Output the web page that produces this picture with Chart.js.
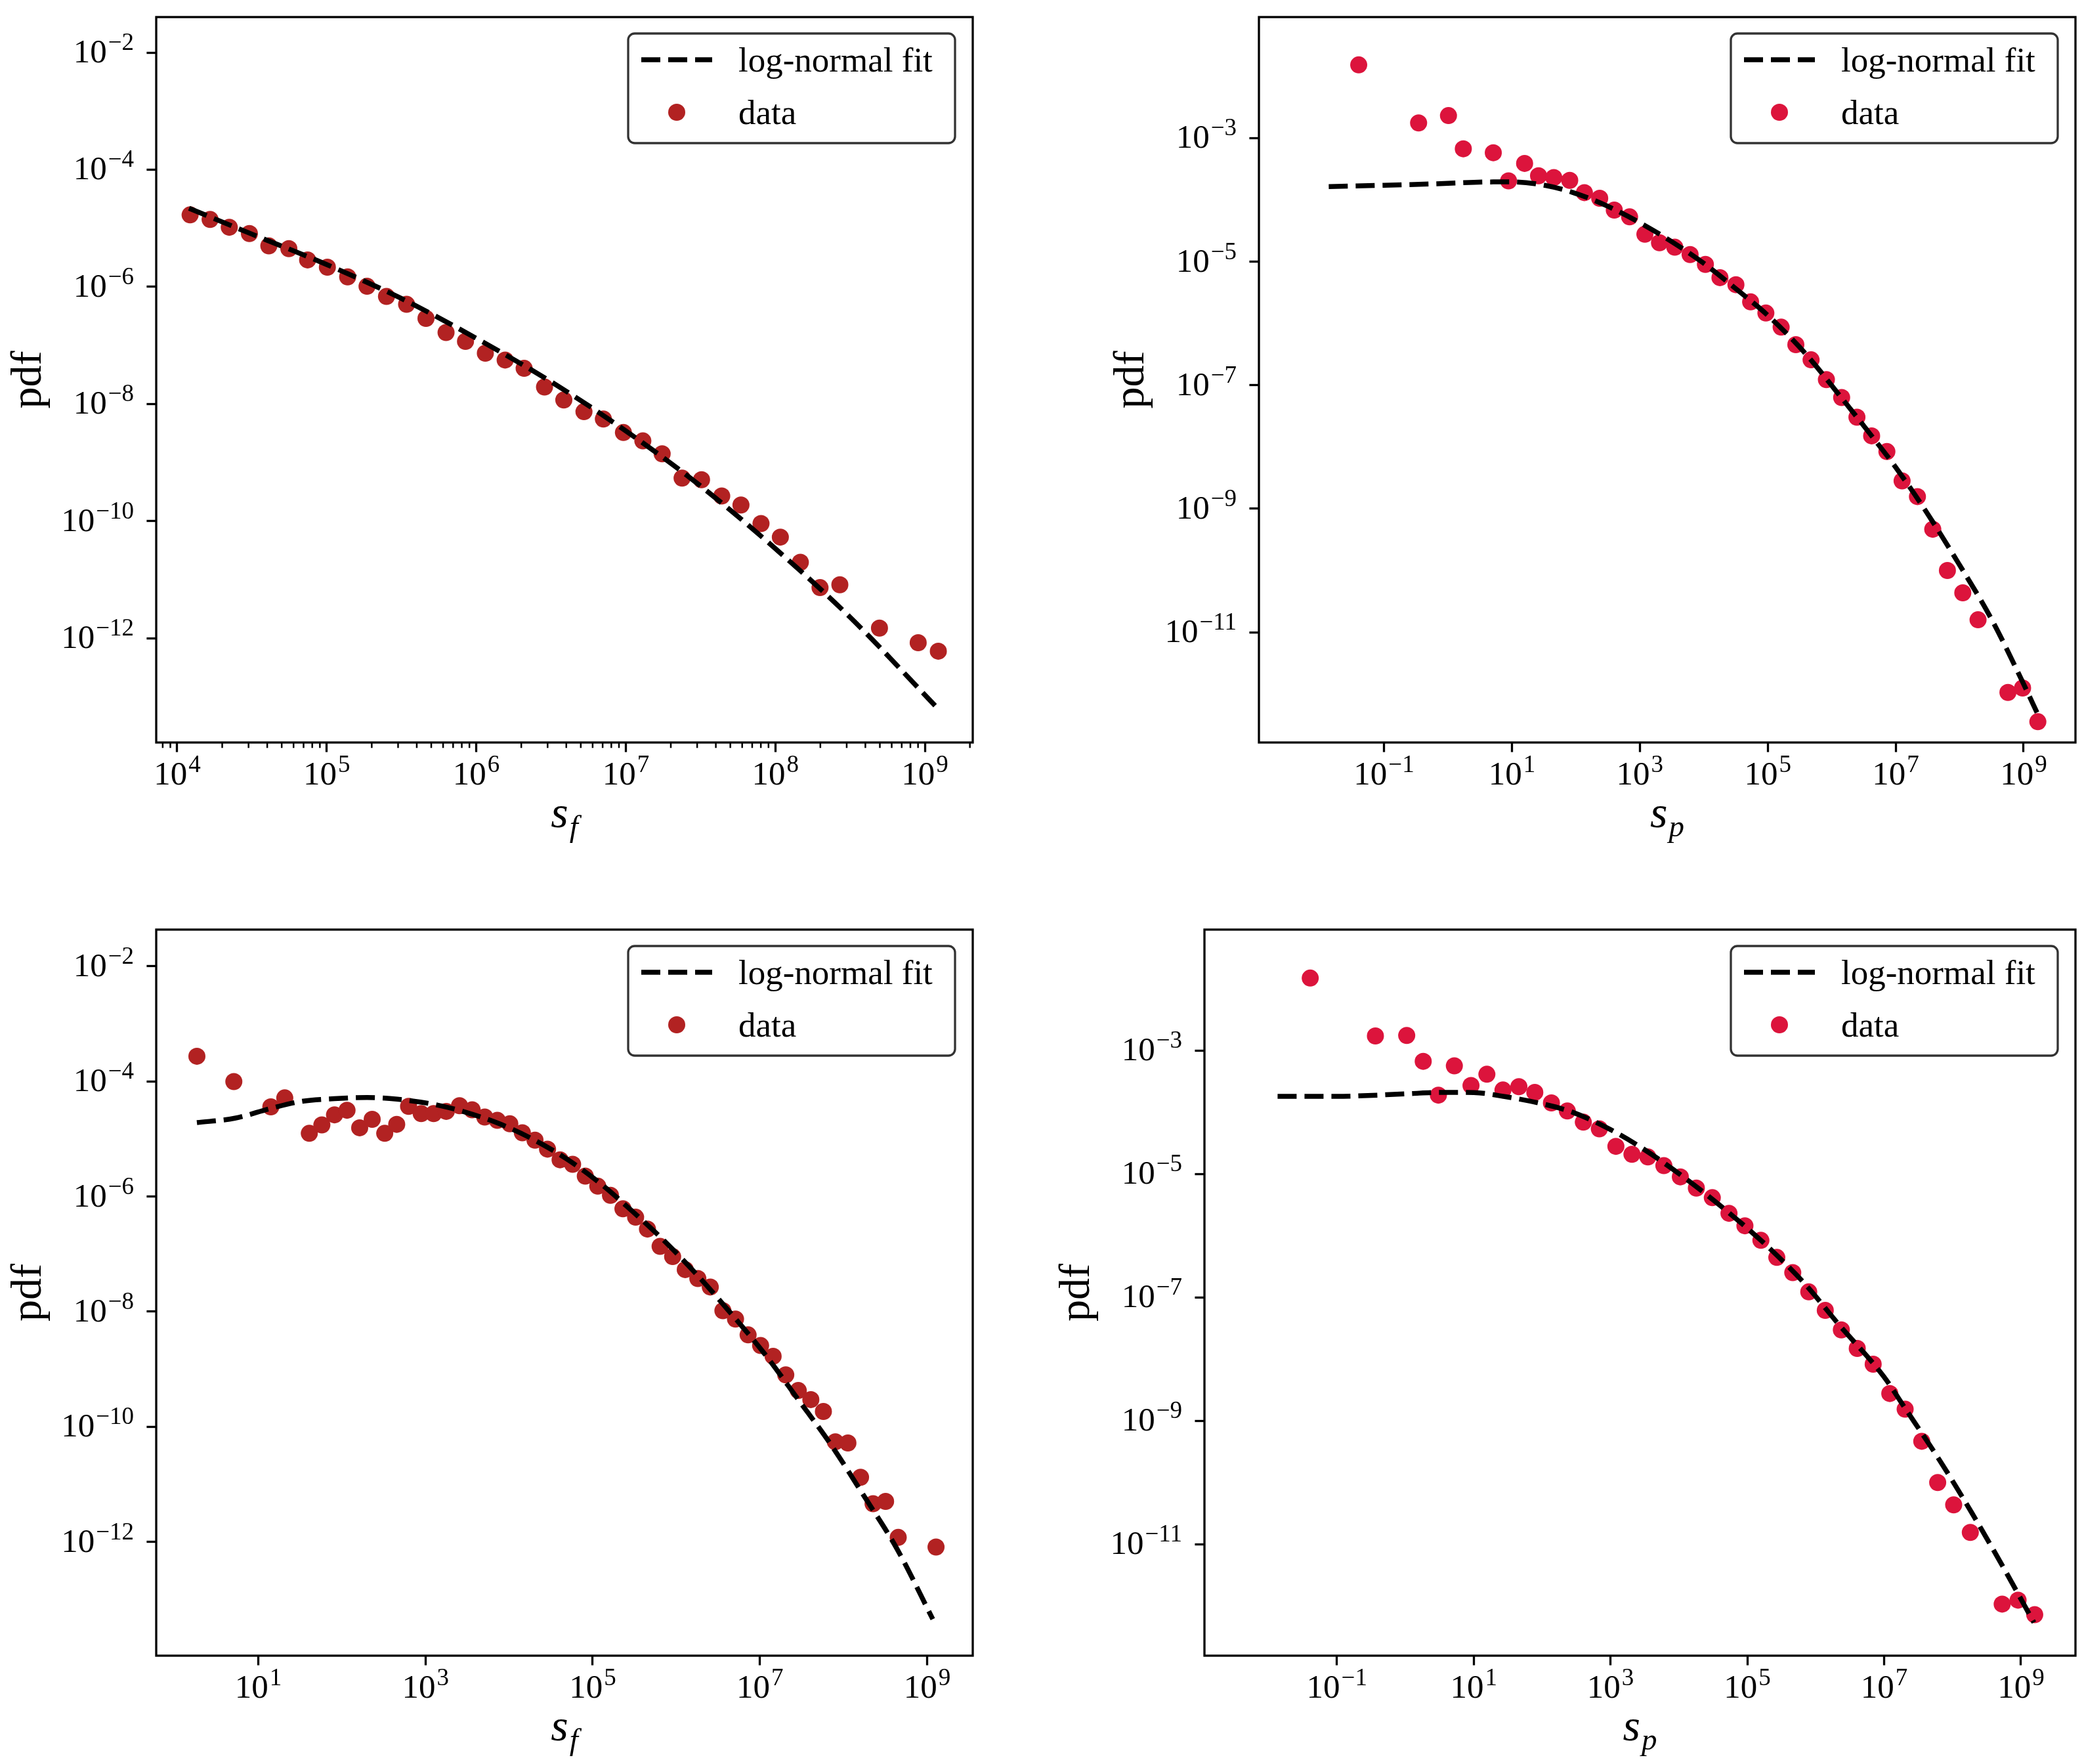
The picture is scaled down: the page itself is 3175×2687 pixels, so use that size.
<!DOCTYPE html>
<html><head><meta charset="utf-8">
<script src="https://cdn.jsdelivr.net/npm/chart.js@4.4.1/dist/chart.umd.min.js"></script>
<style>
html,body{margin:0;padding:0;background:#fff;}
#wrap{position:relative;width:3175px;height:2687px;background:#fff;overflow:hidden;}
canvas{position:absolute;}
</style></head><body>
<div id="wrap">
<canvas id="cTL"></canvas><canvas id="cTR"></canvas><canvas id="cBL"></canvas><canvas id="cBR"></canvas>
</div>
<script>
// ---------- data: top-left (s_f) ----------
const tlDataX = [1.22e4,1.66e4,2.23e4,3.04e4,4.10e4,5.58e4,7.45e4,1.01e5,1.38e5,1.86e5,2.51e5,3.42e5,4.61e5,6.28e5,8.47e5,1.15e6,1.56e6,2.09e6,2.86e6,3.85e6,5.25e6,7.08e6,9.64e6,1.30e7,1.75e7,2.38e7,3.21e7,4.38e7,5.89e7,8.02e7,1.08e8,1.47e8,1.99e8,2.70e8,4.97e8,9.02e8,1.23e9];
const tlDataY = [1.69e-5,1.41e-5,1.04e-5,8.13e-6,5.00e-6,4.48e-6,2.88e-6,2.16e-6,1.48e-6,1.02e-6,6.84e-7,5.02e-7,2.89e-7,1.66e-7,1.17e-7,7.35e-8,5.62e-8,4.05e-8,1.95e-8,1.17e-8,7.38e-9,5.53e-9,3.25e-9,2.34e-9,1.41e-9,5.43e-10,5.08e-10,2.68e-10,1.88e-10,9.08e-11,5.33e-11,1.98e-11,7.31e-12,8.17e-12,1.49e-12,8.38e-13,6.01e-13];
const tlFitX = [1.20e4,3.16e4,1.0e5,3.16e5,1.0e6,3.16e6,1.0e7,3.16e7,1.0e8,3.16e8,1.17e9];
const tlFitY = [2.19e-5,7.94e-6,2.40e-6,6.31e-7,1.32e-7,2.40e-8,3.47e-9,3.98e-10,3.39e-11,2.29e-12,7.08e-14];
const tlXTicks = [1e4,1e5,1e6,1e7,1e8,1e9];
const tlXExps = ['4','5','6','7','8','9'];
const tlYTicks = [1e-2,1e-4,1e-6,1e-8,1e-10,1e-12];
const tlYExps = ['−2','−4','−6','−8','−10','−12'];

// ---------- data: top-right (s_p) ----------
const trDataX = [4.03e-2,3.48e-1,1.02,1.74,5.12,8.87,15.8,26.1,45.2,80.2,136,236,399,692,1.20e3,2.03e3,3.52e3,6.11e3,1.06e4,1.79e4,3.18e4,5.40e4,9.35e4,1.62e5,2.75e5,4.76e5,8.26e5,1.43e6,2.48e6,4.21e6,7.29e6,1.26e7,2.19e7,3.80e7,6.44e7,1.12e8,1.94e8,5.69e8,9.64e8,1.67e9];
const trDataY = [1.53e-2,1.76e-3,2.31e-3,6.71e-4,5.79e-4,2.03e-4,3.89e-4,2.45e-4,2.30e-4,2.07e-4,1.31e-4,1.06e-4,6.82e-5,5.30e-5,2.77e-5,2.02e-5,1.71e-5,1.30e-5,9.00e-6,5.50e-6,4.23e-6,2.23e-6,1.47e-6,8.69e-7,4.53e-7,2.57e-7,1.23e-7,6.31e-8,3.03e-8,1.51e-8,8.41e-9,2.82e-9,1.57e-9,4.65e-10,1.00e-10,4.35e-11,1.59e-11,1.06e-12,1.25e-12,3.56e-13];
const trFitX = [1.37e-2,0.1,0.759,5.13,10,34.7,89.1,295,1e3,3.31e3,1.07e4,3.55e4,1e5,3.89e5,1.29e6,4.27e6,1e7,2.88e7,9.55e7,3.16e8,1e9,1.62e9];
const trFitY = [1.64e-4,1.72e-4,1.83e-4,1.95e-4,1.95e-4,1.70e-4,1.32e-4,8.13e-5,4.27e-5,2.04e-5,8.91e-6,3.31e-6,1.35e-6,3.24e-7,7.08e-8,1.48e-8,4.68e-9,9.55e-10,1.32e-10,1.62e-11,1.45e-12,5.01e-13];
const trXTicks = [1e-1,1e1,1e3,1e5,1e7,1e9];
const trXExps = ['−1','1','3','5','7','9'];
const trYTicks = [1e-3,1e-5,1e-7,1e-9,1e-11];
const trYExps = ['−3','−5','−7','−9','−11'];

// ---------- data: bottom-left (s_f) ----------
const blDataX = [1.84,5.09,14.1,20.7,40.7,57.5,81.5,115,163,230,325,452,627,887,1.25e3,1.77e3,2.55e3,3.61e3,5.11e3,7.23e3,1.02e4,1.44e4,2.04e4,2.88e4,4.07e4,5.75e4,8.15e4,1.15e5,1.63e5,2.30e5,3.26e5,4.52e5,6.40e5,9.04e5,1.28e6,1.81e6,2.55e6,3.61e6,5.11e6,7.23e6,1.02e7,1.44e7,2.04e7,2.88e7,4.07e7,5.75e7,8.00e7,1.13e8,1.60e8,2.26e8,3.19e8,4.52e8,1.28e9];
const blDataY = [2.73e-4,9.91e-5,3.60e-5,5.16e-5,1.25e-5,1.75e-5,2.62e-5,3.15e-5,1.56e-5,2.19e-5,1.25e-5,1.79e-5,3.68e-5,2.75e-5,2.75e-5,3.01e-5,3.77e-5,3.21e-5,2.40e-5,2.10e-5,1.83e-5,1.28e-5,9.53e-6,6.65e-6,4.34e-6,3.62e-6,2.26e-6,1.51e-6,1.05e-6,6.12e-7,4.37e-7,2.72e-7,1.36e-7,9.04e-8,5.38e-8,3.76e-8,2.68e-8,1.04e-8,7.43e-9,3.95e-9,2.58e-9,1.68e-9,8.00e-10,4.27e-10,2.97e-10,1.85e-10,5.50e-11,5.25e-11,1.33e-11,4.62e-12,5.06e-12,1.20e-12,8.17e-13];
const blFitX = [1.84,5.25,14.1,32.4,81.3,200,457,1.26e3,3.09e3,7.76e3,1.95e4,4.79e4,1.20e5,2.95e5,7.41e5,1.82e6,4.57e6,1.15e7,2.82e7,7.08e7,1.74e8,4.37e8,1.17e9];
const blFitY = [1.92e-5,2.29e-5,3.39e-5,4.47e-5,5.01e-5,5.25e-5,4.90e-5,3.98e-5,2.88e-5,1.82e-5,9.77e-6,4.57e-6,1.74e-6,5.62e-7,1.62e-7,4.17e-8,9.12e-9,1.82e-9,3.09e-10,4.90e-11,6.46e-12,7.59e-13,4.57e-14];
const blXTicks = [1e1,1e3,1e5,1e7,1e9];
const blXExps = ['1','3','5','7','9'];
const blYTicks = [1e-2,1e-4,1e-6,1e-8,1e-10,1e-12];
const blYExps = ['−2','−4','−6','−8','−10','−12'];

// ---------- data: bottom-right (s_p) ----------
const brDataX = [4.08e-2,0.366,1.05,1.83,3.05,5.22,9.14,15.6,26.8,45.8,78.3,137,234,401,687,1.20e3,2.06e3,3.52e3,6.03e3,1.05e4,1.80e4,3.08e4,5.40e4,9.23e4,1.58e5,2.70e5,4.62e5,7.91e5,1.38e6,2.37e6,4.05e6,6.92e6,1.21e7,2.03e7,3.55e7,6.07e7,1.04e8,1.82e8,5.32e8,9.08e8,1.59e9];
const brDataY = [1.50e-2,1.73e-3,1.76e-3,6.71e-4,1.90e-4,5.68e-4,2.72e-4,4.14e-4,2.30e-4,2.61e-4,2.11e-4,1.42e-4,1.05e-4,6.93e-5,5.40e-5,2.81e-5,2.09e-5,1.89e-5,1.37e-5,9.00e-6,5.92e-6,4.14e-6,2.31e-6,1.45e-6,8.41e-7,4.45e-7,2.52e-7,1.23e-7,6.17e-8,2.98e-8,1.49e-8,8.28e-9,2.77e-9,1.54e-9,4.66e-10,1.00e-10,4.34e-11,1.55e-11,1.07e-12,1.24e-12,7.21e-13];
const brFitX = [1.36e-2,0.1,1.07,3.31,10,30.2,91.2,282,1e3,2.63e3,8.13e3,2.51e4,1e5,2.29e5,7.08e5,2.14e6,1e7,2.04e7,6.31e7,1.91e8,6.03e8,1.55e9];
const brFitY = [1.82e-4,1.82e-4,2.00e-4,2.11e-4,2.09e-4,1.78e-4,1.41e-4,1.00e-4,5.25e-5,2.82e-5,1.20e-5,4.68e-6,1.32e-6,5.75e-7,1.62e-7,3.72e-8,5.13e-9,1.58e-9,2.40e-10,3.24e-11,3.55e-12,5.37e-13];
const brXTicks = [1e-1,1e1,1e3,1e5,1e7,1e9];
const brXExps = ['−1','1','3','5','7','9'];
const brYTicks = [1e-3,1e-5,1e-7,1e-9,1e-11];
const brYExps = ['−3','−5','−7','−9','−11'];

const tickBase = '10';
const fitLabel = 'log-normal fit';
const dataLabel = 'data';
const yTitle = 'pdf';

// ---------- styling ----------
const FONT = "'Liberation Serif', 'Times New Roman', serif";
const FIREBRICK = '#b22222';
const CRIMSON = '#dc143c';

function roundRectPath(ctx, x, y, w, h, r) {
  ctx.beginPath();
  ctx.moveTo(x + r, y);
  ctx.lineTo(x + w - r, y); ctx.arcTo(x + w, y, x + w, y + r, r);
  ctx.lineTo(x + w, y + h - r); ctx.arcTo(x + w, y + h, x + w - r, y + h, r);
  ctx.lineTo(x + r, y + h); ctx.arcTo(x, y + h, x, y + h - r, r);
  ctx.lineTo(x, y + r); ctx.arcTo(x, y, x + r, y, r);
  ctx.closePath();
}

// draws "10" with a raised exponent; align: 'right' or 'center'
function drawPow(ctx, exp, x, baseY, align) {
  const bF = `51px ${FONT}`, eF = `37px ${FONT}`;
  ctx.font = bF; const wb = ctx.measureText(tickBase).width;
  ctx.font = eF; const we = ctx.measureText(exp).width;
  const gap = 2, total = wb + gap + we;
  const x0 = align === 'right' ? x - total : x - total / 2;
  ctx.textAlign = 'left'; ctx.textBaseline = 'alphabetic';
  ctx.font = bF; ctx.fillText(tickBase, x0, baseY);
  ctx.font = eF; ctx.fillText(exp, x0 + wb + gap, baseY - 19);
}

const decor = {
  id: 'decor',
  afterDraw(chart, args, o) {
    const ctx = chart.ctx, a = chart.chartArea;
    const sx = chart.scales.x, sy = chart.scales.y;
    ctx.save();
    // minor ticks on x axis
    if (o.minorX) {
      ctx.strokeStyle = '#000'; ctx.lineWidth = 2.5;
      const lo = Math.floor(Math.log10(sx.min)), hi = Math.ceil(Math.log10(sx.max));
      for (let d = lo; d <= hi; d++) for (let m = 2; m <= 9; m++) {
        const v = m * Math.pow(10, d);
        if (v < sx.min || v > sx.max) continue;
        const px = sx.getPixelForValue(v);
        ctx.beginPath(); ctx.moveTo(px, a.bottom); ctx.lineTo(px, a.bottom + 8.3); ctx.stroke();
      }
    }
    // axes frame
    ctx.lineWidth = 3.3; ctx.strokeStyle = '#000';
    ctx.strokeRect(a.left, a.top, a.right - a.left, a.bottom - a.top);
    // tick labels
    ctx.fillStyle = '#000';
    o.xTicks.forEach((v, i) => drawPow(ctx, o.xExps[i], sx.getPixelForValue(v), a.bottom + 64, 'center'));
    o.yTicks.forEach((v, i) => drawPow(ctx, o.yExps[i], a.left - 34, sy.getPixelForValue(v) + 15, 'right'));
    // y title
    ctx.font = `66px ${FONT}`;
    ctx.textAlign = 'center'; ctx.textBaseline = 'alphabetic';
    ctx.save();
    ctx.translate(a.left - 176, (a.top + a.bottom) / 2);
    ctx.rotate(-Math.PI / 2);
    ctx.fillText(o.yTitle, 0, 0);
    ctx.restore();
    // x title (s with subscript)
    const mainF = `italic 68px ${FONT}`, subF = `italic 47px ${FONT}`;
    ctx.font = mainF; const w1 = ctx.measureText(o.xMain).width;
    ctx.font = subF; const w2 = ctx.measureText(o.xSub).width;
    const cx = (a.left + a.right) / 2, x0 = cx - (w1 + w2 + 2) / 2, by = a.bottom + 129;
    ctx.textAlign = 'left';
    ctx.font = mainF; ctx.fillText(o.xMain, x0, by);
    ctx.font = subF; ctx.fillText(o.xSub, x0 + w1 + 2, by + 14);
    // legend
    const LW = 498, LH = 167;
    const lx = a.right - 27 - LW, ly = a.top + 25;
    roundRectPath(ctx, lx, ly, LW, LH, 10);
    ctx.fillStyle = 'rgba(255,255,255,0.8)'; ctx.fill();
    ctx.strokeStyle = 'rgba(0,0,0,0.8)'; ctx.lineWidth = 3.3; ctx.stroke();
    chart.data.datasets.forEach((ds, i) => {
      const cy = ly + 40 + i * 80;
      if (ds.showLine) {
        ctx.setLineDash(ds.borderDash || []);
        ctx.strokeStyle = ds.borderColor; ctx.lineWidth = ds.borderWidth; ctx.lineCap = 'butt';
        ctx.beginPath(); ctx.moveTo(lx + 20, cy); ctx.lineTo(lx + 128, cy); ctx.stroke();
        ctx.setLineDash([]);
      } else {
        ctx.fillStyle = ds.backgroundColor;
        ctx.beginPath(); ctx.arc(lx + 74, cy, ds.pointRadius, 0, 2 * Math.PI); ctx.fill();
      }
      ctx.fillStyle = '#000'; ctx.font = `53px ${FONT}`;
      ctx.textAlign = 'left'; ctx.textBaseline = 'alphabetic';
      ctx.fillText(ds.label, lx + 168, cy + 18);
    });
    ctx.restore();
  }
};

function makePanel(id, p) {
  const cv = document.getElementById(id);
  cv.width = p.w; cv.height = p.h;
  cv.style.left = p.left + 'px'; cv.style.top = p.top + 'px';
  cv.style.width = p.w + 'px'; cv.style.height = p.h + 'px';
  const box = p.box;
  const gridOpts = { display: true, drawOnChartArea: false, drawTicks: true, tickLength: 14.6, tickWidth: 3.3, tickColor: '#000', color: '#000' };
  new Chart(cv, {
    type: 'scatter',
    data: {
      datasets: [
        {
          label: fitLabel,
          data: p.fitX.map((x, i) => ({ x: x, y: p.fitY[i] })),
          showLine: true, borderColor: '#000', backgroundColor: '#000',
          borderWidth: 7.5, borderDash: [29, 12], pointRadius: 0, pointHoverRadius: 0,
          cubicInterpolationMode: 'monotone', fill: false
        },
        {
          label: dataLabel,
          data: p.dataX.map((x, i) => ({ x: x, y: p.dataY[i] })),
          showLine: false, pointRadius: 13, pointHoverRadius: 13,
          backgroundColor: p.color, borderColor: p.color, pointBorderWidth: 0
        }
      ]
    },
    options: {
      responsive: false, animation: false, events: [],
      layout: { padding: { left: 0, right: p.w - box.r, top: box.t, bottom: 0 } },
      plugins: {
        legend: { display: false }, tooltip: { enabled: false },
        decor: { minorX: !!p.minorX, yTitle: yTitle, xMain: 's', xSub: p.xSub,
                 xTicks: p.xTicks, xExps: p.xExps, yTicks: p.yTicks, yExps: p.yExps }
      },
      scales: {
        x: {
          type: 'logarithmic', position: 'bottom', min: p.xMin, max: p.xMax,
          afterBuildTicks: s => { s.ticks = p.xTicks.map(v => ({ value: v })); },
          afterFit: s => { s.height = p.h - box.b; s.paddingLeft = 0; s.paddingRight = 0; },
          ticks: { display: false, autoSkip: false },
          grid: gridOpts, border: { display: false }
        },
        y: {
          type: 'logarithmic', position: 'left', min: p.yMin, max: p.yMax,
          afterBuildTicks: s => { s.ticks = p.yTicks.map(v => ({ value: v })); },
          afterFit: s => { s.width = box.l; s.paddingTop = 0; s.paddingBottom = 0; },
          ticks: { display: false, autoSkip: false },
          grid: gridOpts, border: { display: false }
        }
      }
    },
    plugins: [decor]
  });
}

makePanel('cTL', { left: 0, top: 0, w: 1587, h: 1343, box: { l: 238, r: 1482, t: 26, b: 1131 },
  dataX: tlDataX, dataY: tlDataY, fitX: tlFitX, fitY: tlFitY, color: FIREBRICK,
  xTicks: tlXTicks, xExps: tlXExps, yTicks: tlYTicks, yExps: tlYExps,
  xMin: 7.24e3, xMax: 2.09e9, yMin: 1.66e-14, yMax: 4.03e-2, minorX: true, xSub: 'f' });
makePanel('cTR', { left: 1587, top: 0, w: 1588, h: 1343, box: { l: 331, r: 1575, t: 26, b: 1131 },
  dataX: trDataX, dataY: trDataY, fitX: trFitX, fitY: trFitY, color: CRIMSON,
  xTicks: trXTicks, xExps: trXExps, yTicks: trYTicks, yExps: trYExps,
  xMin: 1.11e-3, xMax: 6.47e9, yMin: 1.64e-13, yMax: 9.1e-2, minorX: false, xSub: 'p' });
makePanel('cBL', { left: 0, top: 1343, w: 1587, h: 1344, box: { l: 238, r: 1482, t: 73, b: 1179 },
  dataX: blDataX, dataY: blDataY, fitX: blFitX, fitY: blFitY, color: FIREBRICK,
  xTicks: blXTicks, xExps: blXExps, yTicks: blYTicks, yExps: blYExps,
  xMin: 0.649, xMax: 3.52e9, yMin: 1.06e-14, yMax: 4.32e-2, minorX: false, xSub: 'f' });
makePanel('cBR', { left: 1587, top: 1343, w: 1588, h: 1344, box: { l: 248, r: 1575, t: 73, b: 1179 },
  dataX: brDataX, dataY: brDataY, fitX: brFitX, fitY: brFitY, color: CRIMSON,
  xTicks: brXTicks, xExps: brXExps, yTicks: brYTicks, yExps: brYExps,
  xMin: 1.16e-3, xMax: 6.27e9, yMin: 1.56e-13, yMax: 9.16e-2, minorX: false, xSub: 'p' });
</script>
</body></html>
